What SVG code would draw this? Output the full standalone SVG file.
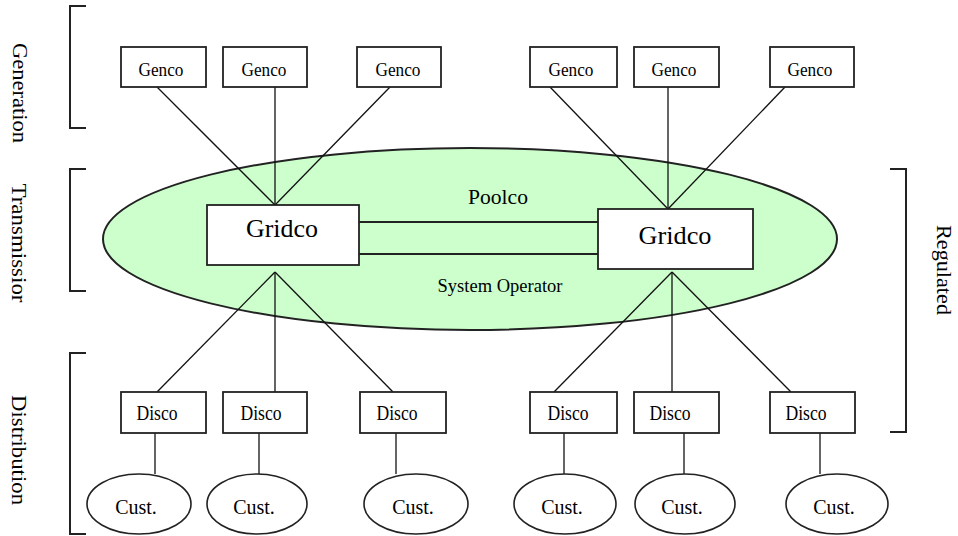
<svg xmlns="http://www.w3.org/2000/svg" width="958" height="536" viewBox="0 0 958 536">
  <style>
    .bg { fill: #ffffff; }
    .pool { fill: #ccffcc; stroke: #222; stroke-width: 2; }
    .box { fill: #ffffff; stroke: #222; stroke-width: 1.8; }
    .cust { fill: #ffffff; stroke: #222; stroke-width: 1.6; }
    .wire { stroke: #111; stroke-width: 1.3; fill: none; }
    .tie { stroke: #222; stroke-width: 2; fill: none; }
    .bracket { stroke: #222; stroke-width: 2; fill: none; }
    text { font-family: "Liberation Serif", "Times New Roman", serif; fill: #000; text-anchor: middle; }
    .small { font-size: 18px; }
    .mid { font-size: 20px; }
    .grid { font-size: 26px; }
    .side { font-size: 22px; }
    .pooltext { font-size: 22px; }
    .optext { font-size: 19px; }
  </style>

  <rect class="bg" x="0" y="0" width="958" height="536"/>

  <!-- Tier brackets and their labels -->
  <g id="brackets">
    <path class="bracket" d="M86,6 H70 V128 H86"/>
    <path class="bracket" d="M86,169 H70 V291 H86"/>
    <path class="bracket" d="M86,353 H70 V534 H86"/>
    <path class="bracket" d="M890,169 H906 V432 H890"/>
  </g>
  <g id="tier-labels">
    <text class="side" transform="translate(13,93) rotate(90)" textLength="100" lengthAdjust="spacingAndGlyphs">Generation</text>
    <text class="side" transform="translate(12,243) rotate(90)" textLength="119" lengthAdjust="spacingAndGlyphs">Transmissior</text>
    <text class="side" transform="translate(12,450) rotate(90)" textLength="110" lengthAdjust="spacingAndGlyphs">Distribution</text>
    <text class="side" transform="translate(937,270) rotate(90)" textLength="90" lengthAdjust="spacingAndGlyphs">Regulated</text>
  </g>

  <!-- Pool / system operator region -->
  <g id="poolco">
    <ellipse class="pool" cx="470" cy="239" rx="367" ry="91"/>
    <text class="pooltext" x="498" y="204" textLength="60" lengthAdjust="spacingAndGlyphs">Poolco</text>
    <text class="optext" x="500" y="292" textLength="125" lengthAdjust="spacingAndGlyphs">System Operator</text>
  </g>

  <!-- Connectors -->
  <g id="connectors">
    <line class="wire" x1="157" y1="87" x2="275" y2="205"/>
    <line class="wire" x1="275" y1="87" x2="275" y2="205"/>
    <line class="wire" x1="390" y1="87" x2="275" y2="205"/>
    <line class="wire" x1="550" y1="87" x2="668" y2="209"/>
    <line class="wire" x1="668" y1="87" x2="668" y2="209"/>
    <line class="wire" x1="785" y1="87" x2="668" y2="209"/>

    <line class="tie" x1="359" y1="222" x2="598" y2="222"/>
    <line class="tie" x1="359" y1="254" x2="598" y2="254"/>

    <line class="wire" x1="275" y1="272" x2="157" y2="392"/>
    <line class="wire" x1="275" y1="272" x2="275" y2="392"/>
    <line class="wire" x1="275" y1="272" x2="393" y2="392"/>
    <line class="wire" x1="672" y1="272" x2="554" y2="392"/>
    <line class="wire" x1="672" y1="272" x2="672" y2="392"/>
    <line class="wire" x1="672" y1="272" x2="791" y2="392"/>

    <line class="wire" x1="155" y1="433" x2="155" y2="474"/>
    <line class="wire" x1="259" y1="433" x2="259" y2="474"/>
    <line class="wire" x1="396" y1="433" x2="396" y2="474"/>
    <line class="wire" x1="564" y1="433" x2="564" y2="474"/>
    <line class="wire" x1="684" y1="433" x2="684" y2="474"/>
    <line class="wire" x1="820" y1="433" x2="820" y2="474"/>
  </g>

  <!-- Generating companies -->
  <g id="genco-1"><rect class="box" x="121" y="47" width="85" height="40"/><text class="small" x="161" y="76" textLength="45" lengthAdjust="spacingAndGlyphs">Genco</text></g>
  <g id="genco-2"><rect class="box" x="223" y="47" width="84" height="40"/><text class="small" x="264" y="76" textLength="45" lengthAdjust="spacingAndGlyphs">Genco</text></g>
  <g id="genco-3"><rect class="box" x="357" y="47" width="84" height="40"/><text class="small" x="398" y="76" textLength="45" lengthAdjust="spacingAndGlyphs">Genco</text></g>
  <g id="genco-4"><rect class="box" x="530" y="47" width="87" height="40"/><text class="small" x="571" y="76" textLength="45" lengthAdjust="spacingAndGlyphs">Genco</text></g>
  <g id="genco-5"><rect class="box" x="634" y="47" width="85" height="40"/><text class="small" x="674" y="76" textLength="45" lengthAdjust="spacingAndGlyphs">Genco</text></g>
  <g id="genco-6"><rect class="box" x="770" y="47" width="84" height="40"/><text class="small" x="810" y="76" textLength="45" lengthAdjust="spacingAndGlyphs">Genco</text></g>

  <!-- Grid companies -->
  <g id="gridco-1"><rect class="box" x="207" y="205" width="152" height="60"/><text class="grid" x="282" y="237" textLength="72" lengthAdjust="spacingAndGlyphs">Gridco</text></g>
  <g id="gridco-2"><rect class="box" x="598" y="209" width="155" height="60"/><text class="grid" x="675" y="244" textLength="73" lengthAdjust="spacingAndGlyphs">Gridco</text></g>

  <!-- Distribution companies -->
  <g id="disco-1"><rect class="box" x="121" y="392" width="85" height="41"/><text class="mid" x="157" y="420" textLength="41" lengthAdjust="spacingAndGlyphs">Disco</text></g>
  <g id="disco-2"><rect class="box" x="223" y="392" width="84" height="41"/><text class="mid" x="261" y="420" textLength="41" lengthAdjust="spacingAndGlyphs">Disco</text></g>
  <g id="disco-3"><rect class="box" x="360" y="392" width="86" height="41"/><text class="mid" x="397" y="420" textLength="41" lengthAdjust="spacingAndGlyphs">Disco</text></g>
  <g id="disco-4"><rect class="box" x="530" y="392" width="87" height="41"/><text class="mid" x="568" y="420" textLength="41" lengthAdjust="spacingAndGlyphs">Disco</text></g>
  <g id="disco-5"><rect class="box" x="634" y="392" width="85" height="41"/><text class="mid" x="670" y="420" textLength="41" lengthAdjust="spacingAndGlyphs">Disco</text></g>
  <g id="disco-6"><rect class="box" x="770" y="392" width="85" height="41"/><text class="mid" x="806" y="420" textLength="41" lengthAdjust="spacingAndGlyphs">Disco</text></g>

  <!-- Customers -->
  <g id="cust-1"><ellipse class="cust" cx="139" cy="504" rx="52" ry="30"/><text class="mid" x="136" y="514">Cust.</text></g>
  <g id="cust-2"><ellipse class="cust" cx="257" cy="504" rx="50" ry="30"/><text class="mid" x="254" y="514">Cust.</text></g>
  <g id="cust-3"><ellipse class="cust" cx="416" cy="504" rx="52" ry="30"/><text class="mid" x="413" y="514">Cust.</text></g>
  <g id="cust-4"><ellipse class="cust" cx="565" cy="504" rx="51" ry="30"/><text class="mid" x="562" y="514">Cust.</text></g>
  <g id="cust-5"><ellipse class="cust" cx="685" cy="504" rx="50" ry="30"/><text class="mid" x="682" y="514">Cust.</text></g>
  <g id="cust-6"><ellipse class="cust" cx="837" cy="504" rx="51" ry="30"/><text class="mid" x="834" y="514">Cust.</text></g>
</svg>
